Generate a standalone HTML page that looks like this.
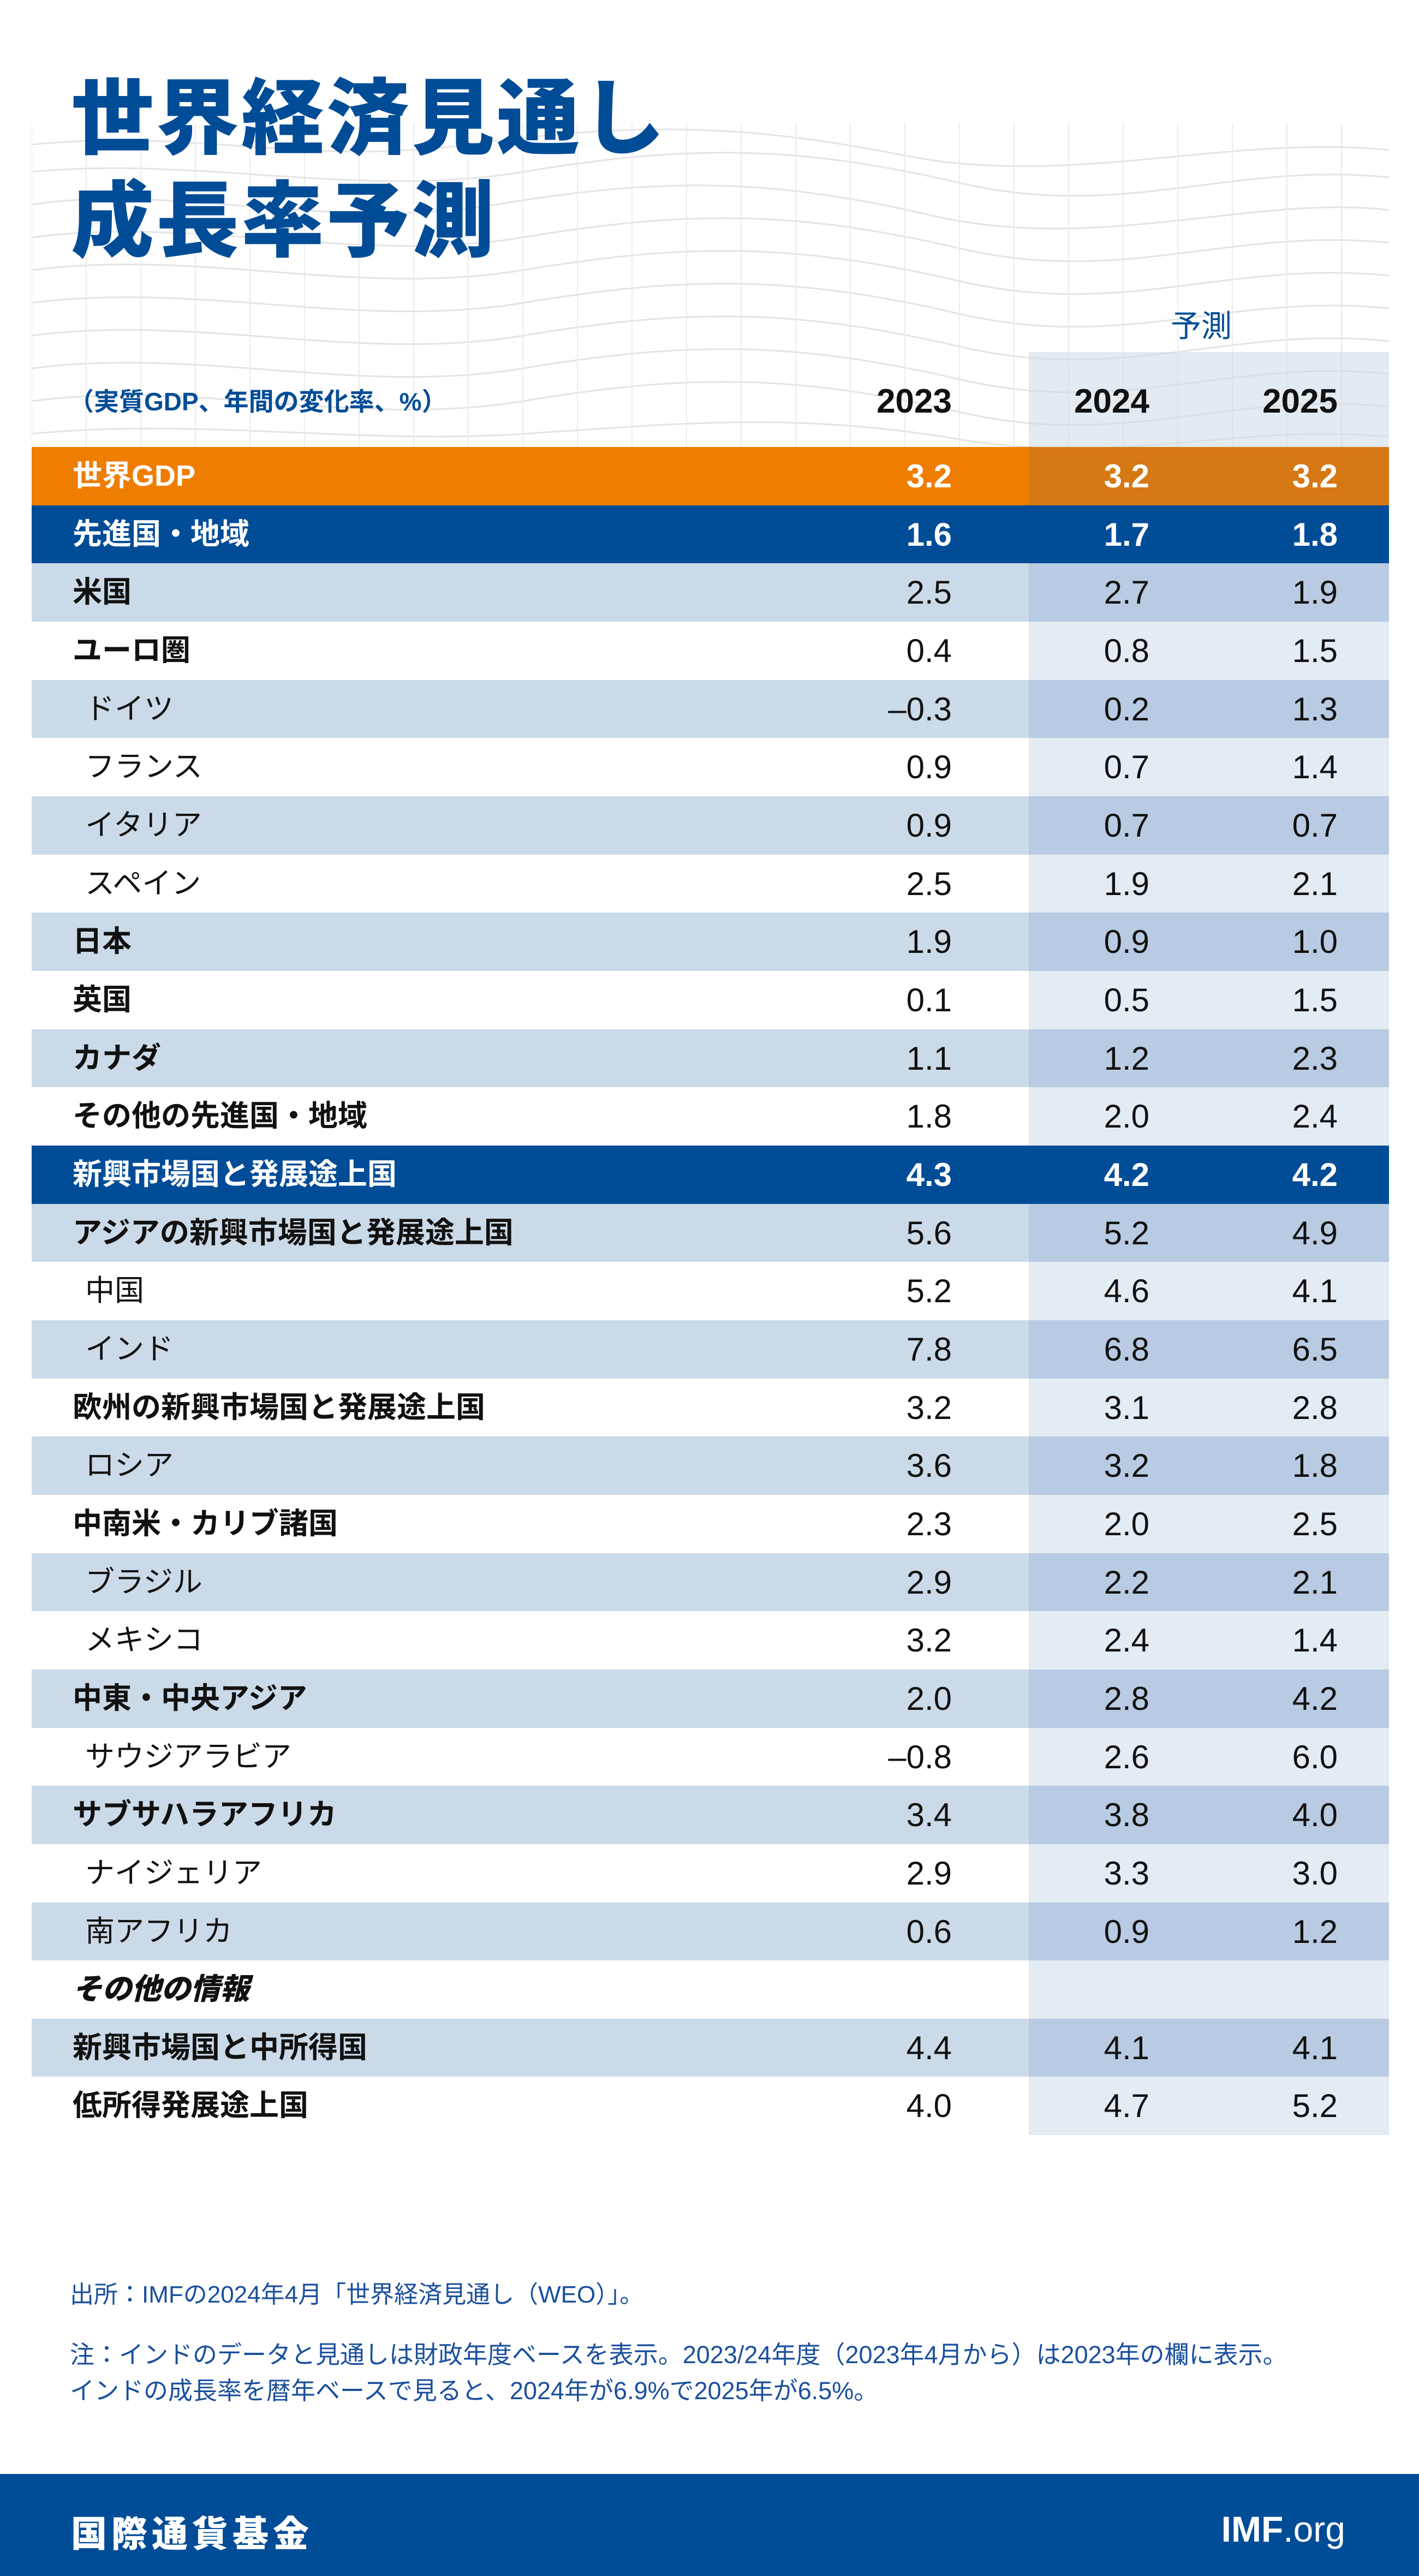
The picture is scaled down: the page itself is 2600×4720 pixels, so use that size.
<!DOCTYPE html>
<html><head><meta charset="utf-8">
<style>
*{margin:0;padding:0;box-sizing:border-box}
body{width:2600px;height:4720px;background:#fff;position:relative;overflow:hidden;font-family:"Liberation Sans","Noto Sans CJK JP",sans-serif}
.t{position:absolute;left:130px;color:#004C97;font-weight:900;font-size:152px;line-height:1;font-family:"Noto Sans CJK JP",sans-serif;letter-spacing:4px}
.row{position:absolute;left:58px;width:2487px;height:107px}
.row .fc{position:absolute;left:1827px;top:0;width:660px;height:100%}
.lab{position:absolute;left:75px;top:0;line-height:107px;font-size:54px;font-weight:700;color:#111;font-family:"Liberation Sans","Noto Sans CJK JP",sans-serif;white-space:nowrap}
.lab.i{left:98px;font-weight:400}
.n{position:absolute;top:0;line-height:107px;font-size:60px;color:#111;text-align:right;width:200px}
.n1{left:1486px}.n2{left:1848px}.n3{left:2193px}
.w .lab,.w .n{color:#fff;font-weight:700}
</style></head><body>
<svg style="position:absolute;left:58px;top:225px" width="2487" height="594" viewBox="0 0 2487 594">
<g fill="none" stroke="#e4e4e4" stroke-width="3">
<path d="M0 40 C300 10 500 80 800 40 S1300 0 1600 60 S2200 20 2487 50"/>
<path d="M0 90 C300 60 600 140 900 90 S1400 40 1700 110 S2200 70 2487 100"/>
<path d="M0 150 C250 110 550 200 850 150 S1350 100 1650 170 S2250 130 2487 160"/>
<path d="M0 210 C300 170 600 260 900 210 S1400 160 1700 230 S2200 190 2487 220"/>
<path d="M0 270 C300 230 600 320 900 270 S1400 220 1700 290 S2200 250 2487 280"/>
<path d="M0 330 C300 290 600 380 900 330 S1400 280 1700 350 S2200 310 2487 340"/>
<path d="M0 390 C300 350 600 440 900 390 S1400 340 1700 410 S2200 370 2487 400"/>
<path d="M0 450 C300 410 600 500 900 450 S1400 400 1700 470 S2200 430 2487 460"/>
<path d="M0 510 C300 470 600 560 900 510 S1400 460 1700 530 S2200 490 2487 520"/>
<path d="M0 570 C300 540 600 590 900 570 S1400 530 1700 580 S2200 550 2487 575"/>
</g>
<g stroke="#ececec" stroke-width="2">
<path d="M0 0V594M100 0V594M200 0V594M300 0V594M400 0V594M500 0V594M600 0V594M700 0V594M800 0V594M900 0V594M1000 0V594M1100 0V594M1200 0V594M1300 0V594M1400 0V594M1500 0V594M1600 0V594M1700 0V594M1800 0V594M1900 0V594M2000 0V594M2100 0V594M2200 0V594M2300 0V594M2400 0V594"/>
</g>
</svg>
<div style="position:absolute;left:1885px;top:645px;width:660px;height:174px;background:rgba(203,218,232,0.55)"></div>
<div class="t" style="top:128px">世界経済見通し</div>
<div class="t" style="top:316px">成長率予測</div>
<div style="position:absolute;left:2145px;top:553px;font-size:56px;color:#004C97;font-family:'Noto Sans CJK JP',sans-serif">予測</div>
<div style="position:absolute;left:126px;top:700px;font-size:46px;color:#004C97;font-family:'Liberation Sans','Noto Sans CJK JP',sans-serif;font-weight:700">（実質GDP、年間の変化率、%）</div>
<div style="position:absolute;top:700px;left:1544px;width:200px;text-align:right;font-size:62px;font-weight:700;color:#111">2023</div>
<div style="position:absolute;top:700px;left:1906px;width:200px;text-align:right;font-size:62px;font-weight:700;color:#111">2024</div>
<div style="position:absolute;top:700px;left:2251px;width:200px;text-align:right;font-size:62px;font-weight:700;color:#111">2025</div>

<div id="rows"></div>
<script>
const R=[
['世界GDP','3.2','3.2','3.2','o'],
['先進国・地域','1.6','1.7','1.8','b'],
['米国','2.5','2.7','1.9','l'],
['ユーロ圏','0.4','0.8','1.5','w'],
['ドイツ','–0.3','0.2','1.3','l',1],
['フランス','0.9','0.7','1.4','w',1],
['イタリア','0.9','0.7','0.7','l',1],
['スペイン','2.5','1.9','2.1','w',1],
['日本','1.9','0.9','1.0','l'],
['英国','0.1','0.5','1.5','w'],
['カナダ','1.1','1.2','2.3','l'],
['その他の先進国・地域','1.8','2.0','2.4','w'],
['新興市場国と発展途上国','4.3','4.2','4.2','b'],
['アジアの新興市場国と発展途上国','5.6','5.2','4.9','l'],
['中国','5.2','4.6','4.1','w',1],
['インド','7.8','6.8','6.5','l',1],
['欧州の新興市場国と発展途上国','3.2','3.1','2.8','w'],
['ロシア','3.6','3.2','1.8','l',1],
['中南米・カリブ諸国','2.3','2.0','2.5','w'],
['ブラジル','2.9','2.2','2.1','l',1],
['メキシコ','3.2','2.4','1.4','w',1],
['中東・中央アジア','2.0','2.8','4.2','l'],
['サウジアラビア','–0.8','2.6','6.0','w',1],
['サブサハラアフリカ','3.4','3.8','4.0','l'],
['ナイジェリア','2.9','3.3','3.0','w',1],
['南アフリカ','0.6','0.9','1.2','l',1],
['その他の情報','','','','w',2],
['新興市場国と中所得国','4.4','4.1','4.1','l'],
['低所得発展途上国','4.0','4.7','5.2','w']];
const C={o:['#EE7D00','#D67814'],b:['#004C97','#004C97'],l:['#CBDAE8','#B8CBE2'],w:['#FFFFFF','#E3EBF3']};
let h='';
R.forEach((r,i)=>{const top=819+i*106.66;const c=C[r[4]];const wt=(r[4]=='o'||r[4]=='b')?' w':'';
let ls=r[5]==1?' i':'';let st=r[5]==2?' style="font-style:italic;font-weight:900"':'';
h+=`<div class="row${wt}" style="top:${top}px;background:${c[0]}"><div class="fc" style="background:${c[1]}"></div><div class="lab${ls}"${st}>${r[0]}</div><div class="n n1">${r[1]}</div><div class="n n2">${r[2]}</div><div class="n n3">${r[3]}</div></div>`;});
document.getElementById('rows').innerHTML=h;
</script>

<div style="position:absolute;left:128px;top:4168px;font-size:44px;color:#1A4F9C;font-family:'Liberation Sans','Noto Sans CJK JP',sans-serif">出所：IMFの2024年4月「世界経済見通し（WEO）」。</div>
<div style="position:absolute;left:128px;top:4282px;font-size:45px;line-height:66px;color:#1A4F9C;font-family:'Liberation Sans','Noto Sans CJK JP',sans-serif;white-space:nowrap">注：インドのデータと見通しは財政年度ベースを表示。2023/24年度（2023年4月から）は2023年の欄に表示。<br>インドの成長率を暦年ベースで見ると、2024年が6.9%で2025年が6.5%。</div>

<div style="position:absolute;left:0;top:4533px;width:2600px;height:187px;background:#004C97"></div>
<div style="position:absolute;left:130px;top:4590px;font-size:66px;font-weight:900;color:#fff;font-family:'Noto Sans CJK JP',sans-serif;letter-spacing:8px">国際通貨基金</div>
<div style="position:absolute;right:135px;top:4596px;font-size:66px;color:#fff"><b>IMF</b>.org</div>
</body></html>
